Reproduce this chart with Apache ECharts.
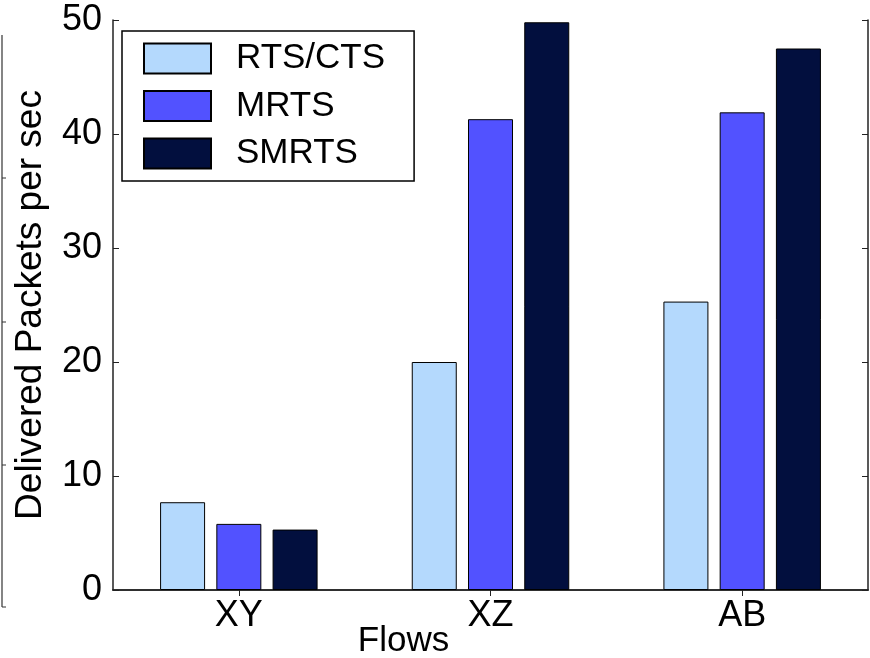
<!DOCTYPE html>
<html>
<head>
<meta charset="utf-8">
<script src="https://cdn.jsdelivr.net/npm/echarts@6/dist/echarts.min.js"></script>
<style>html,body{margin:0;padding:0;background:#fff;}#c{width:870px;height:658px;}</style>
</head>
<body>
<div id="c"></div>
<script>
var categories = ['XY', 'XZ', 'AB'];
var seriesNames = ['RTS/CTS', 'MRTS', 'SMRTS'];
var rtsCts = [7.7, 20.0, 25.3];
var mrts = [5.8, 41.3, 41.9];
var smrts = [5.3, 49.8, 47.5];
var yTicks = [0, 10, 20, 30, 40, 50];

var colors = ['#b4d9fd', '#5252ff', '#020f3e'];
var values = [rtsCts, mrts, smrts];
var FONT = 'Liberation Sans, Arial, sans-serif';
var axisCol = '#222';

var chart = echarts.init(document.getElementById('c'), null, {renderer: 'canvas'});
var series = seriesNames.map(function (n, i) {
  return {
    name: n, type: 'bar', data: values[i],
    barWidth: 45, barGap: '25%',
    itemStyle: {color: colors[i], borderColor: '#000', borderWidth: 1},
    emphasis: {disabled: true}
  };
});

chart.setOption({
  animation: false,
  backgroundColor: '#fff',
  grid: {left: 113, right: 2, top: 20, bottom: 68, containLabel: false, outerBoundsMode: 'none'},
  legend: {
    orient: 'vertical', left: 122, top: 31,
    padding: [10, 29, 10, 21],
    itemWidth: 67, itemHeight: 30, itemGap: 12.5,
    borderColor: '#000', borderWidth: 1.5, backgroundColor: '#fff',
    icon: 'rect',
    textStyle: {fontFamily: FONT, fontSize: 35, color: '#000', padding: [0, 0, 0, 20]},
    data: seriesNames
  },
  xAxis: [{
    type: 'category', data: categories, position: 'bottom',
    axisLine: {lineStyle: {color: axisCol, width: 1.5}},
    axisTick: {inside: true, alignWithLabel: true, length: 6, lineStyle: {color: axisCol}},
    axisLabel: {fontFamily: FONT, fontSize: 36, color: '#000', margin: 8},
    name: 'Flows', nameLocation: 'middle', nameGap: 34, nameMoveOverlap: false,
    nameTextStyle: {fontFamily: FONT, fontSize: 35, color: '#000', padding: [0, 174, 0, 0]}
  }, {
    type: 'category', data: categories, position: 'top',
    axisLine: {show: true, lineStyle: {color: axisCol, width: 1.5}},
    axisTick: {show: true, inside: true, alignWithLabel: true, length: 6, lineStyle: {color: axisCol}},
    axisLabel: {show: false}
  }],
  yAxis: [{
    type: 'value', min: 0, max: 50, interval: 10, position: 'left',
    axisLine: {show: true, lineStyle: {color: axisCol, width: 1.5}},
    axisTick: {show: true, inside: true, length: 6, lineStyle: {color: axisCol}},
    axisLabel: {fontFamily: FONT, fontSize: 36, color: '#000', margin: 11,
      formatter: function (v) { return yTicks.indexOf(v) >= 0 ? String(v) : ''; }},
    splitLine: {show: false},
    name: 'Delivered Packets per sec', nameLocation: 'middle', nameGap: 64, nameMoveOverlap: false,
    nameTextStyle: {fontFamily: FONT, fontSize: 37, color: '#000'}
  }, {
    type: 'value', min: 0, max: 50, interval: 10, position: 'right',
    axisLine: {show: true, lineStyle: {color: axisCol, width: 1.5}},
    axisTick: {show: true, inside: true, length: 6, lineStyle: {color: axisCol}},
    axisLabel: {show: false},
    splitLine: {show: false}
  }],
  graphic: [
    {type: 'line', shape: {x1: 2, y1: 35, x2: 2, y2: 607}, style: {stroke: '#333', lineWidth: 1.2}},
    {type: 'line', shape: {x1: 2, y1: 178, x2: 6, y2: 178}, style: {stroke: '#333', lineWidth: 1}},
    {type: 'line', shape: {x1: 2, y1: 322, x2: 6, y2: 322}, style: {stroke: '#333', lineWidth: 1}},
    {type: 'line', shape: {x1: 2, y1: 465, x2: 6, y2: 465}, style: {stroke: '#333', lineWidth: 1}},
    {type: 'line', shape: {x1: 2, y1: 607, x2: 6, y2: 607}, style: {stroke: '#333', lineWidth: 1}}
  ],
  series: series
});
</script>
</body>
</html>
